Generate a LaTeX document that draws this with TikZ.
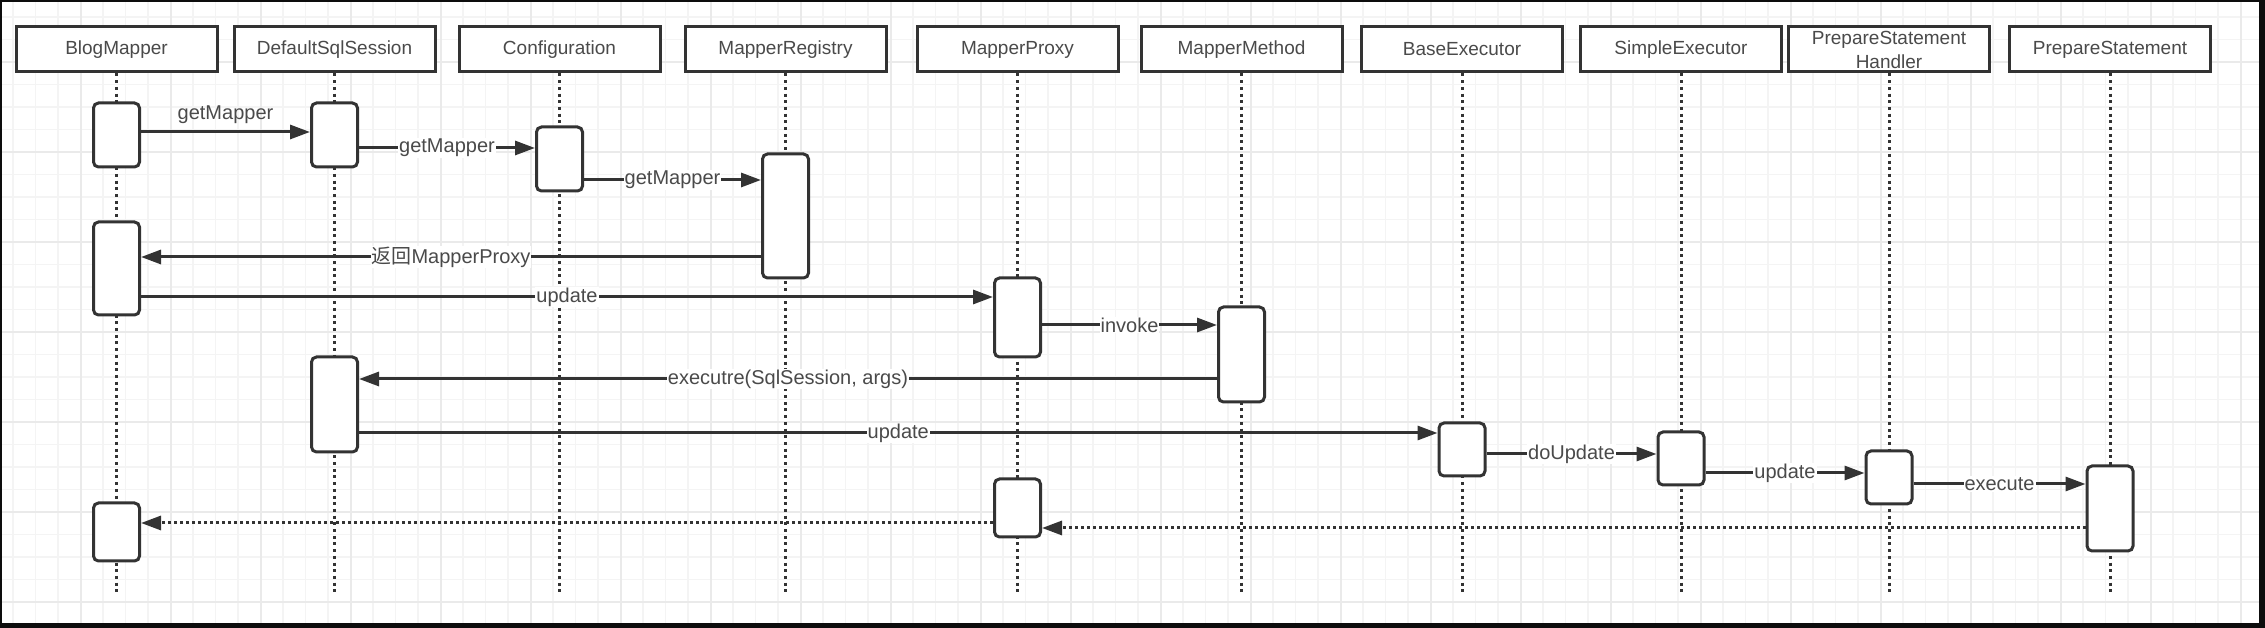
\documentclass[tikz,border=0pt]{standalone}
\usepackage{fontspec}
\setmainfont{Liberation Sans}
\newfontfamily\cjk{Noto Sans CJK SC}
\usetikzlibrary{arrows.meta}
\definecolor{linec}{HTML}{333333}
\definecolor{textc}{HTML}{4A4A4A}
\definecolor{gridminor}{HTML}{F4F4F4}
\definecolor{gridmajor}{HTML}{EAEAEA}
\begin{document}
\begin{tikzpicture}[>={Triangle[length=20bp,width=14bp]},line join=miter,
  hdbox/.style={draw=linec,line width=3bp,fill=white,minimum width=201bp,minimum height=45bp,
    inner sep=0pt,text=textc,align=center,font=\fontsize{19bp}{24bp}\selectfont},
  actbox/.style={draw=linec,line width=3bp,fill=white,rounded corners=5bp,minimum width=46bp,inner sep=0pt},
  life/.style={draw=linec,line width=3bp,dash pattern=on 3bp off 3.7bp},
  msg/.style={draw=linec,line width=3bp,->},
  ret/.style={draw=linec,line width=3bp,->,dash pattern=on 3bp off 3bp},
  lbl/.style={fill=white,inner sep=1bp,text=textc,font=\fontsize{20bp}{24bp}\selectfont},
]
\useasboundingbox (0bp,0bp) rectangle (2265bp,628bp);
%% frame and grid
\fill [black!95] (0bp,0bp) rectangle (2265bp,628bp);
\fill [white] (2bp,5bp) rectangle (2259bp,626bp);
\foreach \k in {0,...,99}
  \draw [gridminor,line width=1.5bp] ({(13.1+22.5*\k)*1bp},5bp) -- ({(13.1+22.5*\k)*1bp},626bp);
\foreach \k in {0,...,26}
  \draw [gridminor,line width=1.5bp] (2bp,{(611-22.5*\k)*1bp}) -- (2259bp,{(611-22.5*\k)*1bp});
\foreach \k in {0,...,24}
  \draw [gridmajor,line width=1.8bp] ({(80.6+90*\k)*1bp},5bp) -- ({(80.6+90*\k)*1bp},626bp);
\foreach \k in {0,...,6}
  \draw [gridmajor,line width=1.8bp] (2bp,{(566-90*\k)*1bp}) -- (2259bp,{(566-90*\k)*1bp});
%%
\coordinate (foot) at (0bp,36bp);
\node (head_0) at (116.5bp,578.5bp) [hdbox] {BlogMapper};
  \node (head_1) at (334.5bp,578.5bp) [hdbox] {DefaultSqlSession};
  \node (head_2) at (559.5bp,578.5bp) [hdbox] {Configuration};
  \node (head_3) at (785.5bp,578.5bp) [hdbox] {MapperRegistry};
  \node (head_4) at (1017.5bp,578.5bp) [hdbox] {MapperProxy};
  \node (head_5) at (1241.5bp,578.5bp) [hdbox] {MapperMethod};
  \node (head_6) at (1462.0bp,578.5bp) [hdbox] {BaseExecutor};
  \node (head_7) at (1681.0bp,578.5bp) [hdbox] {SimpleExecutor};
  \node (head_8) at (1889.0bp,578.5bp) [hdbox] {PrepareStatement\\Handler};
  \node (head_9) at (2110.0bp,578.5bp) [hdbox] {PrepareStatement};
\foreach \i in {0,...,9}
  \draw [life] (head_\i.south) -- (head_\i |- foot);
%
\node (act_0) at (116.5bp,493.0bp) [actbox,minimum height=64bp] {};
  \node (act_1) at (334.5bp,493.0bp) [actbox,minimum height=64bp] {};
  \node (act_2) at (559.5bp,469.0bp) [actbox,minimum height=64bp] {};
  \node (act_3) at (785.5bp,412.0bp) [actbox,minimum height=124bp] {};
  \node (act_4) at (116.5bp,359.5bp) [actbox,minimum height=93bp] {};
  \node (act_5) at (1017.5bp,310.5bp) [actbox,minimum height=79bp] {};
  \node (act_6) at (1241.5bp,273.5bp) [actbox,minimum height=95bp] {};
  \node (act_7) at (334.5bp,223.5bp) [actbox,minimum height=95bp] {};
  \node (act_8) at (1462.0bp,178.5bp) [actbox,minimum height=53bp] {};
  \node (act_9) at (1681.0bp,169.5bp) [actbox,minimum height=53bp] {};
  \node (act_10) at (1889.0bp,150.5bp) [actbox,minimum height=53bp] {};
  \node (act_11) at (2110.0bp,119.5bp) [actbox,minimum height=85bp] {};
  \node (act_12) at (1017.5bp,120.0bp) [actbox,minimum height=58bp] {};
  \node (act_13) at (116.5bp,96.0bp) [actbox,minimum height=58bp] {};
%
\coordinate (msg_0) at (0bp,496bp);
  \coordinate (msg_1) at (0bp,480bp);
  \coordinate (msg_2) at (0bp,448bp);
  \coordinate (msg_3) at (0bp,371bp);
  \coordinate (msg_4) at (0bp,331bp);
  \coordinate (msg_5) at (0bp,303bp);
  \coordinate (msg_6) at (0bp,249bp);
  \coordinate (msg_7) at (0bp,195bp);
  \coordinate (msg_8) at (0bp,174bp);
  \coordinate (msg_9) at (0bp,155bp);
  \coordinate (msg_10) at (0bp,144bp);
  \coordinate (msg_11) at (0bp,100bp);
  \coordinate (msg_12) at (0bp,105bp);
\draw [msg] (act_0.east |- msg_0) -- node [lbl,fill=none,above=6bp] {getMapper} (act_1.west |- msg_0);
  \draw [msg] (act_1.east |- msg_1) -- node [lbl] {getMapper} (act_2.west |- msg_1);
  \draw [msg] (act_2.east |- msg_2) -- node [lbl] {getMapper} (act_3.west |- msg_2);
  \draw [msg] (act_3.west |- msg_3) -- node [lbl] {{\cjk 返回}MapperProxy} (act_4.east |- msg_3);
  \draw [msg] (act_4.east |- msg_4) -- node [lbl] {update} (act_5.west |- msg_4);
  \draw [msg] (act_5.east |- msg_5) -- node [lbl] {invoke} (act_6.west |- msg_5);
  \draw [msg] (act_6.west |- msg_6) -- node [lbl] {executre(SqlSession, args)} (act_7.east |- msg_6);
  \draw [msg] (act_7.east |- msg_7) -- node [lbl] {update} (act_8.west |- msg_7);
  \draw [msg] (act_8.east |- msg_8) -- node [lbl] {doUpdate} (act_9.west |- msg_8);
  \draw [msg] (act_9.east |- msg_9) -- node [lbl] {update} (act_10.west |- msg_9);
  \draw [msg] (act_10.east |- msg_10) -- node [lbl] {execute} (act_11.west |- msg_10);
  \draw [ret] (act_11.west |- msg_11) -- (act_12.east |- msg_11);
  \draw [ret] (act_12.west |- msg_12) -- (act_13.east |- msg_12);
%
\end{tikzpicture}
\end{document}
